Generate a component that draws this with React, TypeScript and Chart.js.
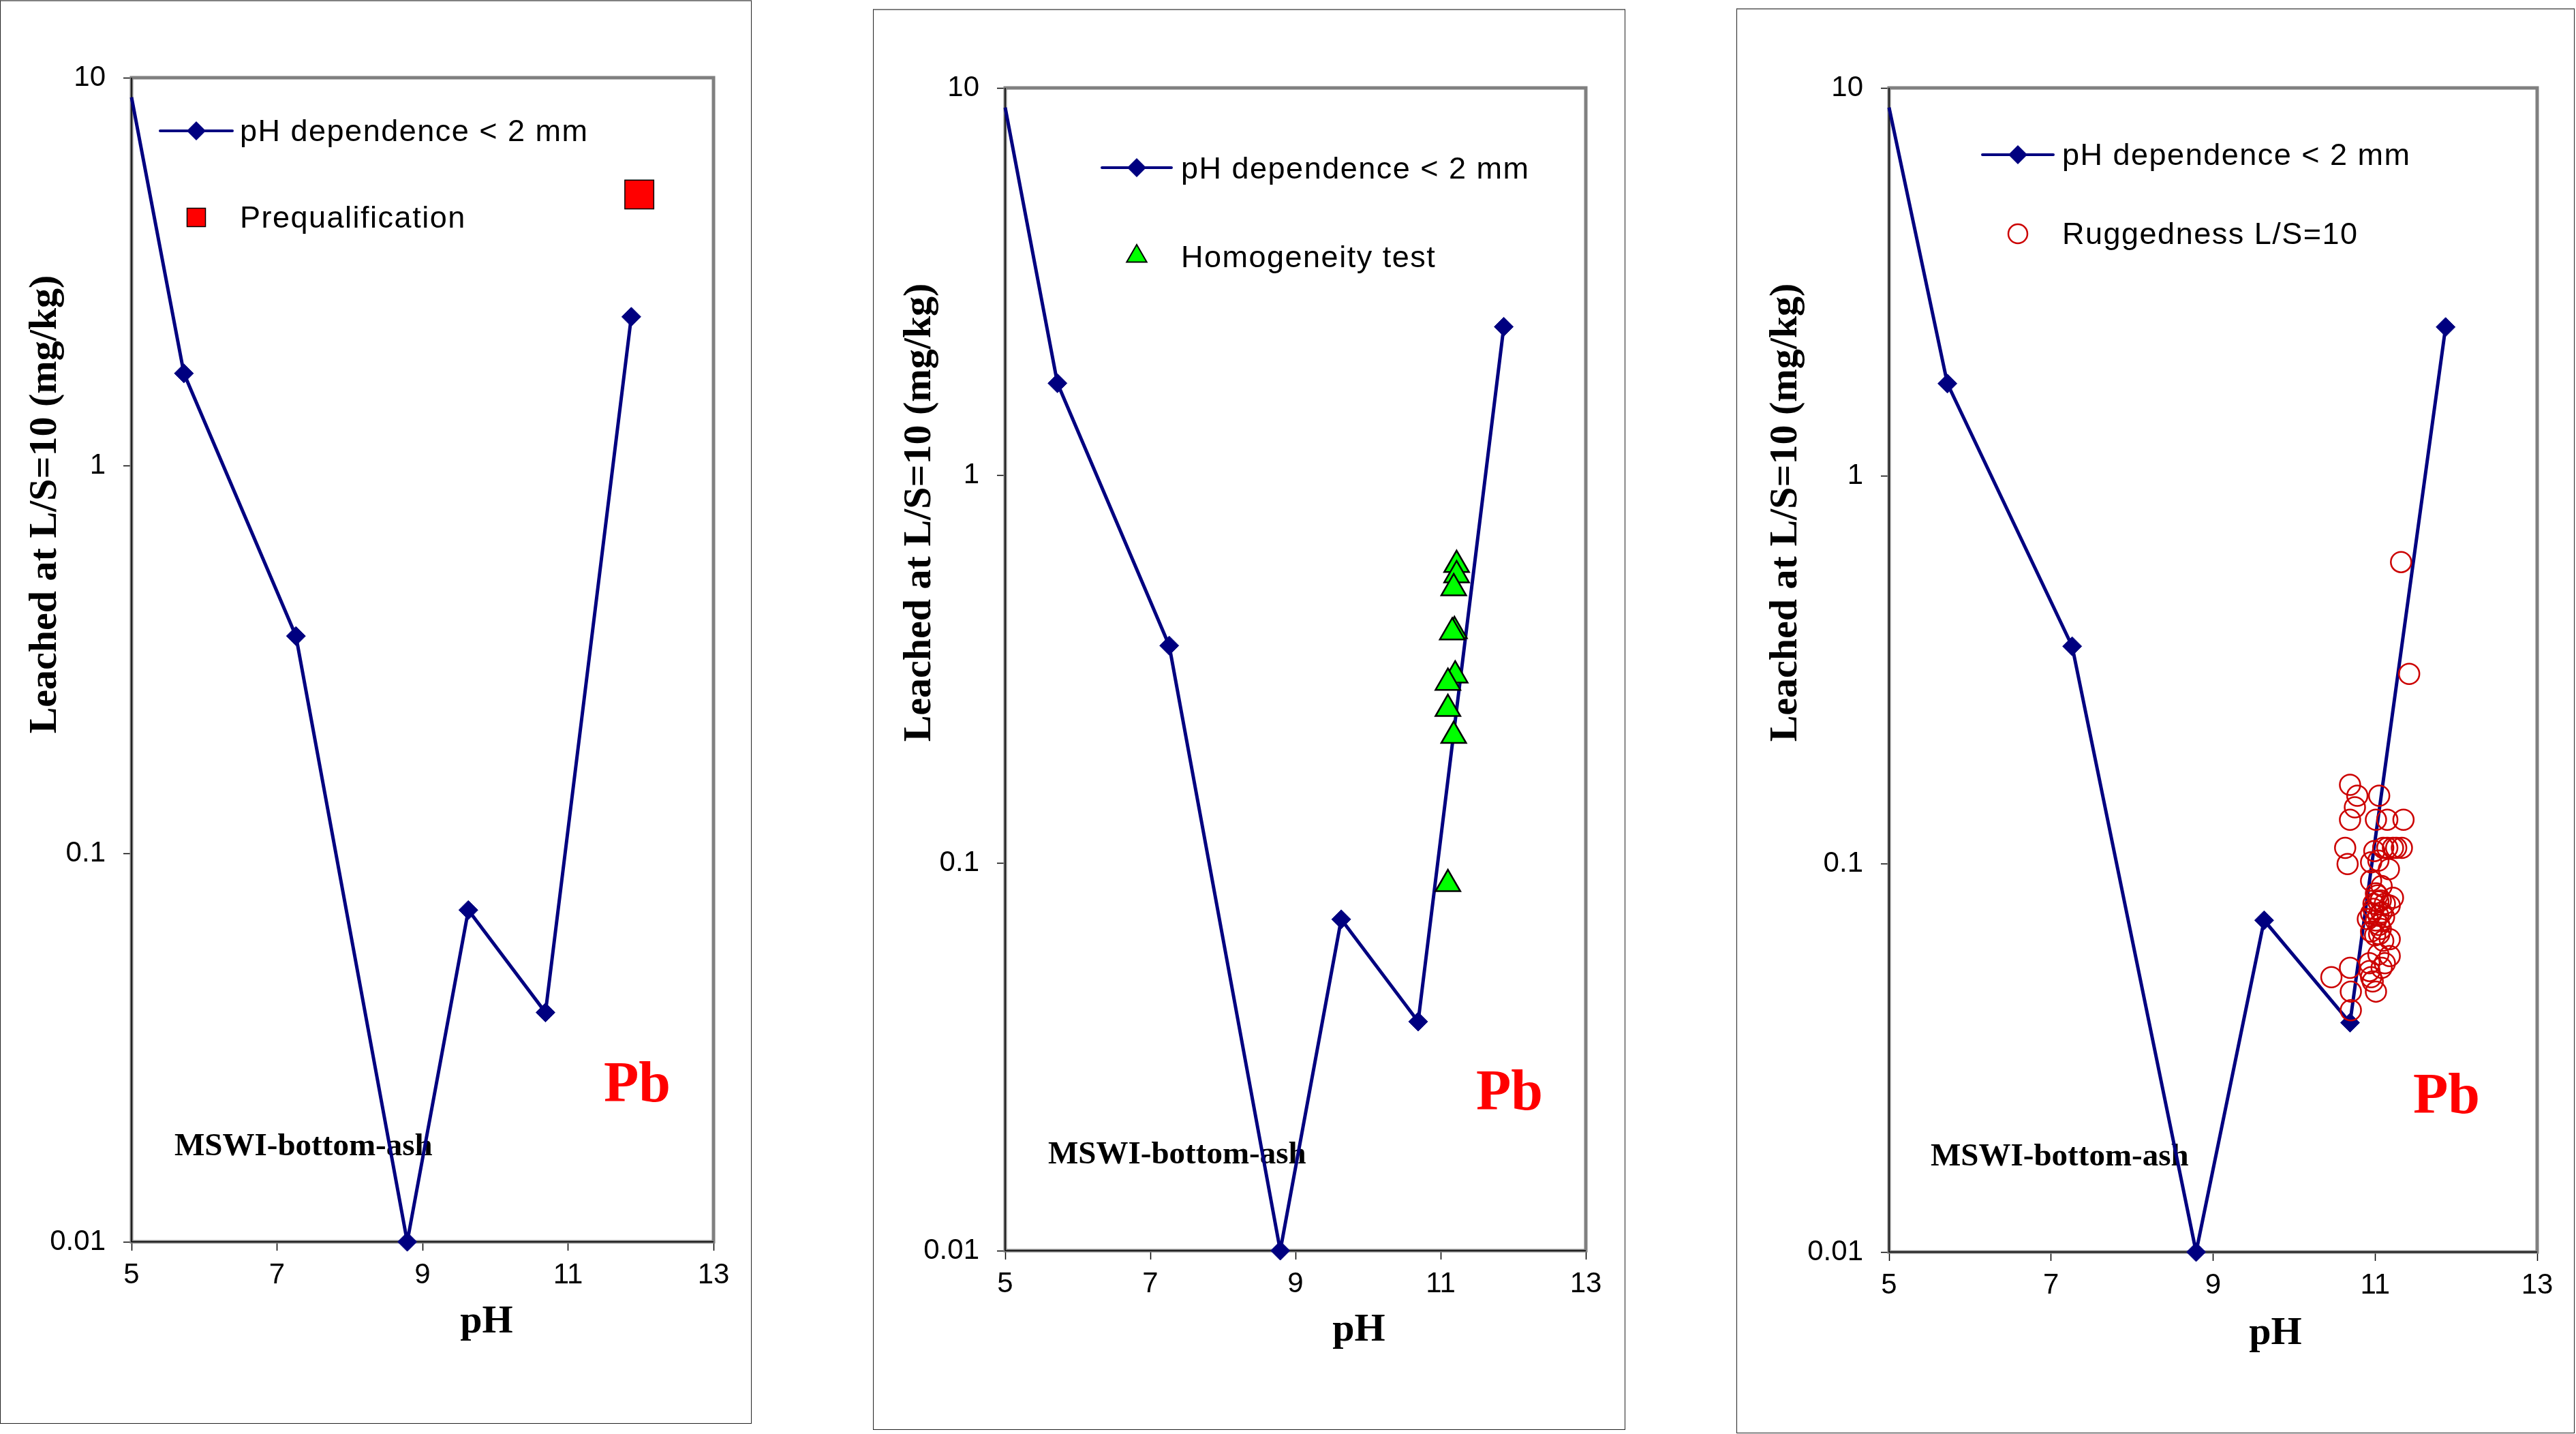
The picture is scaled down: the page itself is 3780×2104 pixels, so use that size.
import { useEffect, useRef } from "react";
import { Chart, registerables } from "chart.js";

Chart.register(...registerables);

// pH dependence < 2 mm (same curve in all three panels)
const curvePH = [5.0, 5.72, 7.26, 8.79, 9.63, 10.69, 11.87];
const curveValue = [8.9, 1.73, 0.364, 0.01, 0.0716, 0.039, 2.42];
// first point sits on the y axis and has no marker in the original
const curveMarker = [0, 14, 14, 14, 14, 14, 14];

// Prequalification (panel 1)
const prequalPH = [11.98];
const prequalValue = [5.0];

// Homogeneity test (panel 2)
const homogPH = [11.22, 11.22, 11.18, 11.19, 11.16, 11.2, 11.1, 11.1, 11.18, 11.1];
const homogValue = [0.588, 0.553, 0.512, 0.397, 0.394, 0.305, 0.292, 0.25, 0.213, 0.0883];

// Ruggedness L/S=10 (panel 3)
const ruggedPH = [
  10.69, 10.78, 10.75, 11.05, 10.69, 11.01, 11.15, 11.35, 10.63, 10.66,
  10.99, 11.1, 11.15, 11.22, 11.26, 11.33, 10.95, 11.04, 11.17, 10.95,
  11.08, 11.22, 11.03, 11.18, 10.91, 10.98, 11.04, 10.95, 11.05, 11.18,
  11.1, 11.18, 11.08, 10.93, 10.69, 10.46, 10.95, 10.97, 10.7, 11.01,
  10.7, 11.01, 11.07, 10.98, 11.08, 11.01, 11.07, 11.0, 11.04, 11.11,
  10.95, 11.05, 11.12, 11.04, 10.93, 11.12, 11.32, 11.42,
];
const ruggedValue = [
  0.16, 0.15, 0.14, 0.15, 0.13, 0.13, 0.13, 0.13, 0.11, 0.1,
  0.108, 0.11, 0.11, 0.11, 0.11, 0.11, 0.101, 0.102, 0.097, 0.0905,
  0.0877, 0.0818, 0.083, 0.0781, 0.0721, 0.0766, 0.0736, 0.067, 0.0697, 0.064,
  0.0634, 0.0579, 0.054, 0.0555, 0.054, 0.0511, 0.0511, 0.0498, 0.0469, 0.0469,
  0.042, 0.084, 0.0805, 0.079, 0.075, 0.0715, 0.068, 0.0655, 0.08, 0.073,
  0.0745, 0.066, 0.079, 0.0585, 0.053, 0.0555, 0.6, 0.309,
];

const xTicks = [5, 7, 9, 11, 13];
const yTicks = [0.01, 0.1, 1, 10];

const NAVY = "#000080";
const SANS = '"Liberation Sans", Arial, sans-serif';
const SERIF = '"Liberation Serif", "Times New Roman", serif';

const pts = (xs: number[], ys: number[]) => xs.map((x, i) => ({ x, y: ys[i] }));

const curveSet = () => ({
  label: "pH dependence < 2 mm",
  data: pts(curvePH, curveValue),
  showLine: true,
  borderColor: NAVY,
  borderWidth: 5,
  pointStyle: "rectRot",
  pointRadius: curveMarker,
  pointBackgroundColor: NAVY,
  pointBorderColor: NAVY,
  pointBorderWidth: 1,
  clip: false,
  order: 2,
});

const extraSets: Record<string, () => any> = {
  prequal: () => ({
    label: "Prequalification",
    data: pts(prequalPH, prequalValue),
    pointStyle: "rect",
    pointRadius: 30,
    pointBackgroundColor: "#ff0000",
    pointBorderColor: "#000",
    pointBorderWidth: 1.5,
    clip: false,
    order: 1,
  }),
  homog: () => ({
    label: "Homogeneity test",
    data: pts(homogPH, homogValue),
    pointStyle: "triangle",
    pointRadius: 21,
    pointBackgroundColor: "#00ff00",
    pointBorderColor: "#000",
    pointBorderWidth: 2.5,
    clip: false,
    order: 1,
  }),
  rugged: () => ({
    label: "Ruggedness L/S=10",
    data: pts(ruggedPH, ruggedValue),
    pointStyle: "circle",
    pointRadius: 15,
    pointBackgroundColor: "rgba(0,0,0,0)",
    pointBorderColor: "#cc0000",
    pointBorderWidth: 2.5,
    clip: false,
    order: 1,
  }),
};

const panels = [
  {
    frame: { x: 0, y: 0, w: 1103, h: 2089 },
    plot: { l: 193, t: 114, r: 1047, b: 1822 },
    yTitle: { x: 82, y: 740 },
    xTitle: { x: 714, y: 1955 },
    pb: { x: 935, y: 1616 },
    mswi: { x: 256, y: 1695 },
    legend: { x1: 235, x2: 341, y1: 192, mx: 288, tx: 352, base1: 207, y2: 319, base2: 334 },
    extra: "prequal",
  },
  {
    frame: { x: 1281, y: 13, w: 1104, h: 2085 },
    plot: { l: 194, t: 116, r: 1046, b: 1822 },
    yTitle: { x: 84, y: 739 },
    xTitle: { x: 713, y: 1954 },
    pb: { x: 934, y: 1615 },
    mswi: { x: 257, y: 1694 },
    legend: { x1: 336, x2: 438, y1: 233, mx: 387, tx: 452, base1: 249, y2: 363, base2: 379 },
    extra: "homog",
  },
  {
    frame: { x: 2548, y: 12, w: 1230, h: 2091 },
    plot: { l: 224, t: 117, r: 1175, b: 1825 },
    yTitle: { x: 88, y: 740 },
    xTitle: { x: 791, y: 1960 },
    pb: { x: 1042, y: 1621 },
    mswi: { x: 285, y: 1698 },
    legend: { x1: 361, x2: 465, y1: 215, mx: 413, tx: 478, base1: 230, y2: 331, base2: 346 },
    extra: "rugged",
  },
];

function legendMarker(ctx: CanvasRenderingContext2D, kind: string, x: number, y: number) {
  ctx.beginPath();
  if (kind === "prequal") {
    ctx.rect(x - 13.5, y - 13.5, 27, 27);
    ctx.fillStyle = "#ff0000";
    ctx.fill();
    ctx.lineWidth = 1.5;
    ctx.strokeStyle = "#000";
    ctx.stroke();
  } else if (kind === "homog") {
    const r = 17;
    ctx.moveTo(x, y - r);
    ctx.lineTo(x + r * 0.866, y + r / 2);
    ctx.lineTo(x - r * 0.866, y + r / 2);
    ctx.closePath();
    ctx.fillStyle = "#00ff00";
    ctx.fill();
    ctx.lineWidth = 2;
    ctx.strokeStyle = "#000";
    ctx.stroke();
  } else {
    ctx.arc(x, y, 14, 0, Math.PI * 2);
    ctx.lineWidth = 2.5;
    ctx.strokeStyle = "#cc0000";
    ctx.stroke();
  }
}

const decorPlugin = {
  id: "decor",
  beforeDatasetsDraw(chart: any, _args: any, o: any) {
    const { ctx, chartArea: a } = chart;
    ctx.save();
    // plot area: grey frame, black axis lines left and bottom
    ctx.strokeStyle = "#808080";
    ctx.lineWidth = 5;
    ctx.strokeRect(a.left, a.top, a.right - a.left, a.bottom - a.top);
    ctx.strokeStyle = "#000";
    ctx.lineWidth = 1.5;
    ctx.beginPath();
    ctx.moveTo(a.left, a.top);
    ctx.lineTo(a.left, a.bottom);
    ctx.lineTo(a.right, a.bottom);
    ctx.stroke();

    ctx.fillStyle = "#000";
    ctx.textBaseline = "alphabetic";

    // axis titles
    ctx.font = `bold 58px ${SERIF}`;
    ctx.textAlign = "center";
    ctx.fillText("pH", o.xTitle.x, o.xTitle.y);
    ctx.save();
    ctx.translate(o.yTitle.x, o.yTitle.y);
    ctx.rotate(-Math.PI / 2);
    ctx.fillText("Leached at L/S=10 (mg/kg)", 0, 0);
    ctx.restore();

    // annotations
    ctx.font = `bold 47px ${SERIF}`;
    ctx.textAlign = "left";
    ctx.fillText("MSWI-bottom-ash", o.mswi.x, o.mswi.y);
    ctx.font = `bold 84px ${SERIF}`;
    ctx.textAlign = "center";
    ctx.fillStyle = "#ff0000";
    ctx.fillText("Pb", o.pb.x, o.pb.y);

    // legend
    const L = o.legend;
    ctx.strokeStyle = NAVY;
    ctx.lineWidth = 4;
    ctx.lineCap = "round";
    ctx.beginPath();
    ctx.moveTo(L.x1, L.y1);
    ctx.lineTo(L.x2, L.y1);
    ctx.stroke();
    ctx.fillStyle = NAVY;
    ctx.beginPath();
    ctx.moveTo(L.mx, L.y1 - 14);
    ctx.lineTo(L.mx + 14, L.y1);
    ctx.lineTo(L.mx, L.y1 + 14);
    ctx.lineTo(L.mx - 14, L.y1);
    ctx.closePath();
    ctx.fill();
    legendMarker(ctx, o.extra, L.mx, L.y2);

    ctx.fillStyle = "#000";
    ctx.font = `45px ${SANS}`;
    ctx.textAlign = "left";
    (ctx as any).letterSpacing = "1.5px";
    ctx.fillText("pH dependence < 2 mm", L.tx, L.base1);
    ctx.fillText(o.extraLabel, L.tx, L.base2);
    (ctx as any).letterSpacing = "0px";
    ctx.restore();
  },
};

function Panel({ p }: { p: (typeof panels)[number] }) {
  const ref = useRef<HTMLCanvasElement>(null);

  useEffect(() => {
    if (!ref.current) return;
    const extra = extraSets[p.extra]();
    const tickFont = { family: SANS, size: 42 };
    const chart = new Chart(ref.current, {
      type: "scatter",
      data: { datasets: [extra, curveSet()] as any },
      options: {
        responsive: false,
        animation: false,
        devicePixelRatio: 1,
        events: [],
        layout: { padding: { left: 0, top: p.plot.t, right: p.frame.w - p.plot.r, bottom: 0 } },
        plugins: {
          legend: { display: false },
          tooltip: { enabled: false },
          decor: { ...p, extraLabel: extra.label },
        } as any,
        scales: {
          x: {
            type: "linear",
            min: 5,
            max: 13,
            afterFit: (s: any) => {
              s.height = p.frame.h - p.plot.b;
            },
            afterBuildTicks: (s: any) => {
              s.ticks = xTicks.map((value) => ({ value }));
            },
            ticks: { font: tickFont, color: "#000", padding: 11, maxRotation: 0, autoSkip: false },
            grid: { drawOnChartArea: false, drawTicks: true, tickLength: 13, tickColor: "#000", tickWidth: 1.5 },
            border: { display: false },
          },
          y: {
            type: "logarithmic",
            min: 0.01,
            max: 10,
            afterFit: (s: any) => {
              s.width = p.plot.l;
            },
            afterBuildTicks: (s: any) => {
              s.ticks = yTicks.map((value) => ({ value }));
            },
            ticks: {
              font: tickFont,
              color: "#000",
              padding: 26,
              autoSkip: false,
              callback: (v: any) => String(v),
            },
            grid: { drawOnChartArea: false, drawTicks: true, tickLength: 12, tickColor: "#000", tickWidth: 1.5 },
            border: { display: false },
          },
        },
      } as any,
      plugins: [decorPlugin],
    });
    return () => chart.destroy();
    // eslint-disable-next-line react-hooks/exhaustive-deps
  }, []);

  const { x, y, w, h } = p.frame;
  return (
    <>
      <div
        style={{
          position: "absolute",
          left: x,
          top: y,
          width: w,
          height: h,
          boxSizing: "border-box",
          borderTop: "2px solid #808080",
          borderLeft: "1px solid #222",
          borderRight: "1px solid #222",
          borderBottom: "1px solid #222",
        }}
      />
      <canvas
        ref={ref}
        width={w}
        height={h}
        style={{ position: "absolute", left: x, top: y, width: w, height: h }}
      />
    </>
  );
}

export default function App() {
  return (
    <div
      style={{
        position: "absolute",
        left: 0,
        top: 0,
        width: 3780,
        height: 2104,
        background: "#fff",
        overflow: "hidden",
      }}
    >
      {panels.map((p, i) => (
        <Panel key={i} p={p} />
      ))}
    </div>
  );
}
